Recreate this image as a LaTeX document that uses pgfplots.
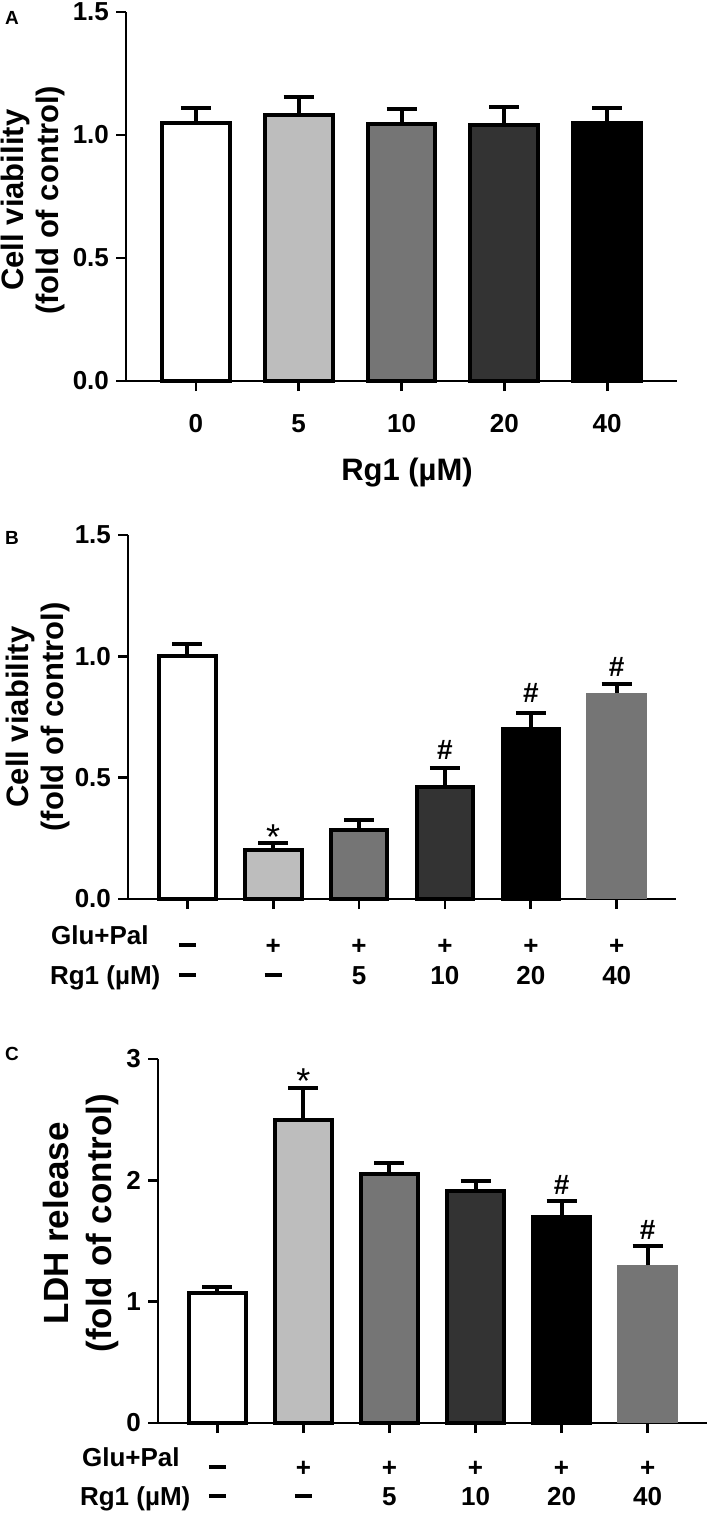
\documentclass[border=0pt]{standalone}
\usepackage{fontspec}
\setmainfont{Liberation Sans}
\usepackage{pgfplots}
\pgfplotsset{compat=1.18}

\definecolor{lg}{gray}{0.74}
\definecolor{mg}{gray}{0.46}
\definecolor{dg}{gray}{0.2}
\newcommand{\dsh}{\rule[3.4pt]{8.5pt}{2pt}}

\pgfplotsset{
  panel/.style={
    scale only axis,
    anchor=south west,
    axis lines=left,
    axis line style={line width=1.4pt, -},
    ymin=0,
    ybar,
    tick align=outside,
    major tick length=5pt,
    tick style={line width=1.4pt, black},
    tick label style={font=\fontsize{13}{15}\selectfont\bfseries},
    every axis y label/.style={rotate=90, anchor=center, align=center,
      font=\fontsize{15.5}{17.5}\selectfont\bfseries},
    every axis x label/.style={anchor=base, font=\fontsize{15.5}{17.5}\selectfont\bfseries},
    clip=false,
  },
  bb/.style={fill=#1, draw=black, line width=2pt, bar shift=0pt, bar width=0.66,
    error bars/.cd, y dir=plus, y explicit,
    error bar style={line width=2pt, black, solid},
    error mark options={rotate=90, line width=2pt, mark size=7.5pt, black}},
  bn/.style={fill=#1, draw=none, bar shift=0pt, bar width=0.71,
    error bars/.cd, y dir=plus, y explicit,
    error bar style={line width=2pt, black, solid},
    error mark options={rotate=90, line width=2pt, mark size=7.5pt, black}},
}

\begin{document}
\begin{tikzpicture}
\useasboundingbox (0,0) rectangle (354.5pt,-757pt);

% ---------------- Panel A ----------------
\node[font=\fontsize{9.5}{11}\selectfont\bfseries] at (6pt,-9pt) {A};
\begin{axis}[panel, at={(63pt,-190.5pt)}, width=275.5pt, height=184.5pt,
  xmin=-0.68, xmax=4.68, ymax=1.5,
  xtick={0,1,2,3,4}, xticklabels={0,5,10,20,40},
  ytick={0,0.5,1,1.5}, yticklabels={0.0,0.5,1.0,1.5},
  xticklabel style={anchor=base, yshift=-20.5pt},
  ylabel={Cell viability\\(fold of control)},
  ylabel style={at={(axis description cs:-0.168,0.49)}},
  xlabel={Rg1 (µM)},
  xlabel style={at={(axis description cs:0.51,0)}, yshift=-49.5pt},
]
\addplot[bb=white] coordinates {(0,1.05) +- (0,0.06)};
\addplot[bb=lg]    coordinates {(1,1.08) +- (0,0.075)};
\addplot[bb=mg]    coordinates {(2,1.045) +- (0,0.06)};
\addplot[bb=dg]    coordinates {(3,1.04) +- (0,0.072)};
\addplot[bb=black] coordinates {(4,1.05) +- (0,0.06)};
\end{axis}

% ---------------- Panel B ----------------
\node[font=\fontsize{9.5}{11}\selectfont\bfseries] at (6pt,-269pt) {B};
\begin{axis}[panel, at={(64pt,-449.5pt)}, width=274pt, height=182pt,
  xmin=-0.69, xmax=5.69, ymax=1.5,
  xtick={0,1,2,3,4,5}, xticklabels={\dsh,+,+,+,+,+},
  extra x ticks={0,1,2,3,4,5}, extra x tick labels={\dsh,\dsh,5,10,20,40},
  extra x tick style={major tick length=0pt, xticklabel style={yshift=-20pt}},
  ytick={0,0.5,1,1.5}, yticklabels={0.0,0.5,1.0,1.5},
  xticklabel style={anchor=base, yshift=-22.5pt},
  ylabel={Cell viability\\(fold of control)},
  ylabel style={at={(axis description cs:-0.165,0.5)}},
]
\addplot[bb=white] coordinates {(0,1.00) +- (0,0.05)};
\addplot[bb=lg]    coordinates {(1,0.20) +- (0,0.03)};
\addplot[bb=mg]    coordinates {(2,0.285) +- (0,0.04)};
\addplot[bb=dg]    coordinates {(3,0.46) +- (0,0.08)};
\addplot[bb=black] coordinates {(4,0.70) +- (0,0.065)};
\addplot[bn=mg]    coordinates {(5,0.85) +- (0,0.035)};
\node[font=\fontsize{18}{20}\selectfont, yshift=-4pt] at (axis cs:1,0.29) {*};
\node[font=\fontsize{14}{16}\selectfont\bfseries] at (axis cs:3,0.614) {\#};
\node[font=\fontsize{14}{16}\selectfont\bfseries] at (axis cs:4,0.849) {\#};
\node[font=\fontsize{14}{16}\selectfont\bfseries] at (axis cs:5,0.956) {\#};
\end{axis}
\node[anchor=base west, font=\fontsize{13}{15}\selectfont\bfseries] at (22pt,-472pt) {Glu+Pal};
\node[anchor=base west, font=\fontsize{13}{15}\selectfont\bfseries] at (21.5pt,-492pt) {Rg1 (µM)};

% ---------------- Panel C ----------------
\node[font=\fontsize{9.5}{11}\selectfont\bfseries] at (6pt,-527pt) {C};
\begin{axis}[panel, at={(79pt,-711.5pt)}, width=274.5pt, height=182pt,
  xmin=-0.69, xmax=5.69, ymax=3,
  xtick={0,1,2,3,4,5}, xticklabels={\dsh,+,+,+,+,+},
  extra x ticks={0,1,2,3,4,5}, extra x tick labels={\dsh,\dsh,5,10,20,40},
  extra x tick style={major tick length=0pt, xticklabel style={yshift=-19.5pt}},
  ytick={0,1,2,3}, yticklabels={0,1,2,3},
  xticklabel style={anchor=base, yshift=-21.5pt},
  ylabel={LDH release\\(fold of control)},
  ylabel style={at={(axis description cs:-0.14,0.549)},
    font=\fontsize{17.5}{21.5}\selectfont\bfseries},
]
\addplot[bb=white] coordinates {(0,1.07) +- (0,0.05)};
\addplot[bb=lg]    coordinates {(1,2.50) +- (0,0.26)};
\addplot[bb=mg]    coordinates {(2,2.05) +- (0,0.09)};
\addplot[bb=dg]    coordinates {(3,1.91) +- (0,0.085)};
\addplot[bb=black] coordinates {(4,1.70) +- (0,0.13)};
\addplot[bn=mg]    coordinates {(5,1.30) +- (0,0.16)};
\node[font=\fontsize{18}{20}\selectfont, yshift=-4pt] at (axis cs:1,2.885) {*};
\node[font=\fontsize{14}{16}\selectfont\bfseries] at (axis cs:4,1.96) {\#};
\node[font=\fontsize{14}{16}\selectfont\bfseries] at (axis cs:5,1.59) {\#};
\end{axis}
\node[anchor=base west, font=\fontsize{13}{15}\selectfont\bfseries] at (37.5pt,-733pt) {Glu+Pal};
\node[anchor=base west, font=\fontsize{13}{15}\selectfont\bfseries] at (36.5pt,-752.5pt) {Rg1 (µM)};
\end{tikzpicture}
\end{document}
